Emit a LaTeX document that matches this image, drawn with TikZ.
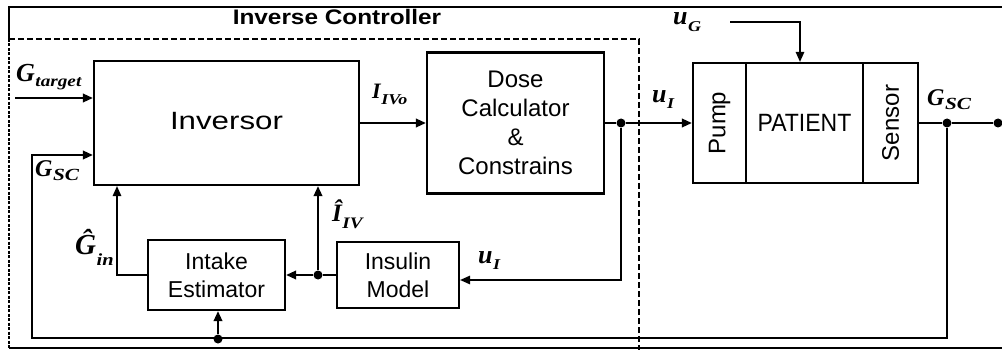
\documentclass[tikz,border=0pt]{standalone}
\usepackage{fontspec}
\setmainfont{Liberation Sans}
\newfontfamily\lserif{Liberation Serif}
\usetikzlibrary{arrows.meta,calc}
\newcommand\fsz[2]{\fontsize{#1}{#2}\selectfont}
\newcommand\mvar[1]{{\lserif\bfseries\itshape #1}}
% main letter size, main letter, sub size, sub text, sub xscale, sub raise
\newcommand\mlab[6]{{\fsz{#1}{#1}\mvar{#2}}\kern0.5pt\raisebox{#6}{\scalebox{#5}[1]{\fsz{#3}{#3}\mvar{#4}}}}
\begin{document}
\begin{tikzpicture}[x=1pt,y=-1pt,
  box/.style={draw,line width=2.2pt,inner sep=0pt,align=center},
  arr/.style={line width=2pt,-{Triangle[length=10pt,width=8.5pt]}},
  ln/.style={line width=2pt},
  thinln/.style={line width=1.4pt},
  dot/.style={circle,fill,inner sep=0pt,minimum size=9pt},
  lab/.style={inner sep=0pt,anchor=base west}]
\useasboundingbox (0,0) rectangle (1002,350);
% frame
\draw[line width=1.8pt] (9,39) -- (9,7) -- (1006,7);
\draw[line width=1.8pt] (9,348) -- (1006,348);
\draw[line width=1.4pt,dash pattern=on 6pt off 3pt] (9,39) -- (639,39) -- (639,350);
\draw[line width=2pt,dash pattern=on 3pt off 1.5pt] (9,39) -- (9,348);
\node[inner sep=0pt,font=\bfseries\fsz{21}{21}] (title) at (337,16.5) {\scalebox{1.16}[1]{Inverse Controller}};
% blocks
\node[box,minimum width=265pt,minimum height=124pt] (inv) at (226.5,123) {\raisebox{4pt}{\scalebox{1.25}[1]{\fsz{25}{30}Inversor}}};
\node[box,minimum width=177pt,minimum height=141pt,font=\fsz{24}{29}] (dose) at (515.5,123) {Dose\\Calculator\\\&\\Constrains};
\node[box,minimum width=137pt,minimum height=70pt,font=\fsz{23}{28}] (intake) at (216.5,275) {Intake\\Estimator};
\node[box,minimum width=122pt,minimum height=66pt,font=\fsz{23}{28}] (insulin) at (398,275) {Insulin\\Model};
\node[box,minimum width=53pt,minimum height=120pt] (pump) at (719.5,123) {\rotatebox{90}{\fsz{24}{24}Pump}};
\node[box,minimum width=117pt,minimum height=120pt] (patient) at (804.5,123) {\scalebox{0.92}[1]{\fsz{25}{25}PATIENT}};
\node[box,minimum width=55pt,minimum height=120pt] (sensor) at (890.5,123) {\rotatebox{90}{\fsz{24}{24}Sensor}};
% junctions
\node[dot] (js) at (947,123) {};
\node[dot] (jend) at (998,123) {};
\node[dot] (jd) at (621,123) {};
\node[dot] (ji) at (318,275) {};
\node[dot] (jb) at (218,339) {};
\coordinate (gtS) at (15,98);
\coordinate (fbR) at (947,338);
\coordinate (fbL) at (32,338);
\coordinate (fbT) at (32,155);
\coordinate (gi) at (117,275);
\coordinate (jdB) at (621,280);
\coordinate (ugS) at (730,22);
\coordinate (ugC) at (800,22);
% connectors
\draw[arr] (gtS) -- (gtS -| inv.west);
\draw[ln] (sensor.east) -- (js) -- (jend);
\draw[arr] (js) -- (fbR) -- (fbL) -- (fbT) -- (fbT -| inv.west);
\draw[arr] (jb) -- (jb |- intake.south);
\draw[arr,thinln] (intake.west) -- (gi) -- (gi |- inv.south);
\draw[arr] (insulin.west) -- (ji) -- (intake.east);
\draw[arr] (ji) -- (ji |- inv.south);
\draw[arr] (inv.east) -- (inv.east -| dose.west);
\draw[ln] (dose.east) -- (jd);
\draw[arr] (jd) -- (pump.west);
\draw[arr,thinln] (jd) -- (jdB) -- (jdB -| insulin.east);
\draw[arr,thinln] (ugS) -- (ugC) -- (ugC |- patient.north);
% labels
\node[lab] (lgt) at (16,82) {\mlab{26}{G}{16}{target}{1.2}{-5pt}};
\node[lab] (lgscl) at (35,177) {\mlab{24}{G}{17}{SC}{1.25}{-4pt}};
\node[lab] (lgscr) at (927,106) {\mlab{24}{G}{17}{SC}{1.25}{-4pt}};
\node[lab] (livo) at (372,99) {\mlab{22}{I}{15}{IVo}{1.2}{-6pt}};
\node[lab] (luit) at (652,103) {\mlab{26}{u}{15}{I}{1.2}{-6pt}};
\node[lab] (luib) at (478,263) {\mlab{26}{u}{15}{I}{1.2}{-6pt}};
\node[lab] (lug) at (673,25) {\mlab{26}{u}{15}{G}{1.2}{-7pt}};
\node[lab] (lgin) at (75,254) {\mlab{29}{Ĝ}{17}{in}{1.2}{-12pt}};
\node[lab] (liiv) at (332,222) {\mlab{25}{Î}{16}{IV}{1.2}{-7pt}};
\end{tikzpicture}
\end{document}
